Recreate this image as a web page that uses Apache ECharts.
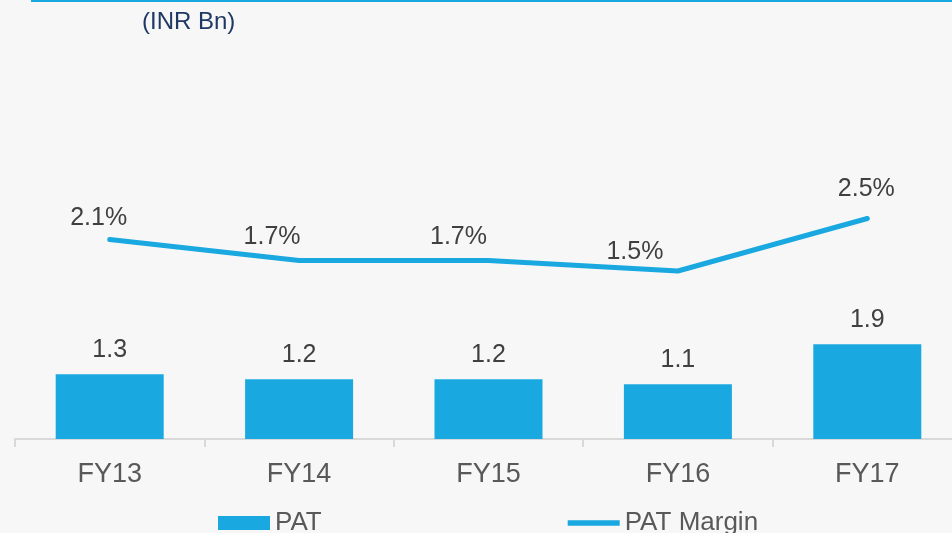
<!DOCTYPE html>
<html>
<head>
<meta charset="utf-8">
<script src="https://cdn.jsdelivr.net/npm/echarts@6/dist/echarts.min.js"></script>
<style>
  html, body { margin: 0; padding: 0; background: #f7f7f7; }
  #main { width: 952px; height: 533px; }
</style>
</head>
<body>
<div id="main"></div>
<script>
  var years = ['FY13', 'FY14', 'FY15', 'FY16', 'FY17'];
  var pat = [1.3, 1.2, 1.2, 1.1, 1.9];
  var patMargin = [2.1, 1.7, 1.7, 1.5, 2.5];

  var blue = '#1aa8e1';
  var font = '"Liberation Sans", Arial, sans-serif';

  // hand placed labels in the original, nudge them a bit
  var marginLabelShift = [[-11, 4], [-27, 2], [-30, 2], [-43, 6], [-1, -4]];

  var myChart = echarts.init(document.getElementById('main'));
  myChart.setOption({
    backgroundColor: '#f7f7f7',
    animation: false,
    textStyle: { fontFamily: font },
    graphic: [
      { type: 'rect', left: 31, top: 0, shape: { width: 930, height: 2 }, style: { fill: blue } },
      { type: 'text', left: 142, top: 10, style: { text: '(INR Bn)', fill: '#1f3864', font: '24px ' + font } }
    ],
    grid: { left: 15, width: 947, top: 40, bottom: 94, outerBoundsMode: 'none', containLabel: false },
    legend: {
      top: 505,
      left: 213,
      itemGap: 246,
      itemWidth: 52,
      itemHeight: 14,
      textStyle: { fontSize: 26, color: '#595959', fontFamily: font },
      data: [
        { name: 'PAT', icon: 'rect' },
        { name: 'PAT Margin', icon: 'path://M0,0L57,0L57,6L0,6Z', itemStyle: { color: blue, opacity: 1 } }
      ]
    },
    xAxis: {
      type: 'category',
      data: years,
      axisLine: { lineStyle: { color: '#d9d9d9', width: 2 } },
      axisTick: { show: true, length: 8, lineStyle: { color: '#d9d9d9', width: 2 } },
      axisLabel: { fontSize: 27, color: '#595959', margin: 22, fontFamily: font }
    },
    yAxis: [
      { type: 'value', min: 0, max: 8, show: false, splitLine: { show: false } },
      { type: 'value', min: -1.7, max: 5.9, show: false, splitLine: { show: false } }
    ],
    series: [
      {
        name: 'PAT',
        type: 'bar',
        data: pat,
        barWidth: 108,
        itemStyle: { color: blue },
        label: {
          show: true,
          position: 'top',
          distance: 12,
          fontSize: 25,
          color: '#404040',
          fontFamily: font,
          formatter: function (p) { return p.value.toFixed(1); }
        }
      },
      {
        name: 'PAT Margin',
        type: 'line',
        yAxisIndex: 1,
        data: patMargin.map(function (v, i) {
          return { value: v, label: { offset: marginLabelShift[i] } };
        }),
        symbol: 'circle',
        symbolSize: 1,
        showSymbol: true,
        lineStyle: { color: blue, width: 5, cap: 'round', join: 'round' },
        itemStyle: { color: blue },
        label: {
          show: true,
          position: 'top',
          distance: 12,
          fontSize: 25,
          color: '#404040',
          fontFamily: font,
          formatter: function (p) { return p.value.toFixed(1) + '%'; }
        }
      }
    ]
  });
  window.addEventListener('resize', function () { myChart.resize(); });
</script>
</body>
</html>
